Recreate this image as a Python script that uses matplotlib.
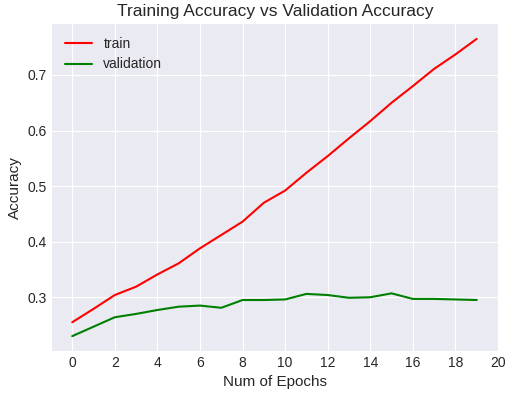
import matplotlib
matplotlib.use("Agg")
import matplotlib.pyplot as plt

epochs = list(range(20))
train = [0.255, 0.279, 0.304, 0.319, 0.341, 0.361, 0.388, 0.412, 0.436, 0.470,
         0.492, 0.524, 0.554, 0.586, 0.617, 0.650, 0.680, 0.711, 0.737, 0.765]
validation = [0.230, 0.247, 0.264, 0.270, 0.277, 0.283, 0.285, 0.281, 0.295, 0.295,
              0.296, 0.306, 0.304, 0.299, 0.300, 0.307, 0.297, 0.297, 0.296, 0.295]
xticks = list(range(0, 21, 2))

plt.style.use("seaborn-v0_8-darkgrid")
plt.rcParams['font.family'] = ['Liberation Sans', 'DejaVu Sans']
plt.rcParams['text.color'] = '.15'
plt.rcParams['axes.labelcolor'] = '.15'
plt.rcParams['xtick.color'] = '.15'
plt.rcParams['ytick.color'] = '.15'

W, H = 513, 397
fig = plt.figure(figsize=(W / 100, H / 100), dpi=100)
ax = fig.add_axes([52 / W, 1 - 351 / H, 446 / W, 327 / H])

ax.plot(epochs, train, color='red', label='train', linewidth=1.5)
ax.plot(epochs, validation, color='green', label='validation', linewidth=1.5)
ax.set_xticks(xticks)
ax.tick_params(labelsize=10)
ax.set_xlabel('Num of Epochs', fontsize=11)
ax.set_ylabel('Accuracy', fontsize=11)
ax.set_title('Training Accuracy vs Validation Accuracy', fontsize=12.5)
ax.legend(loc='upper left', fontsize=10, frameon=False)

fig.savefig('out.png', dpi=100)
